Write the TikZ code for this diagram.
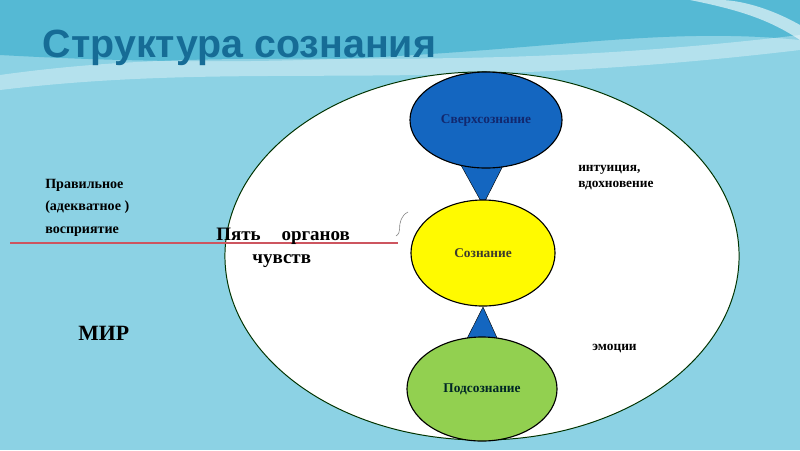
\documentclass[tikz,border=0pt]{standalone}
\usepackage{fontspec}
\setmainfont{Liberation Serif}
\newfontfamily\titlefont{Liberation Sans}
\usetikzlibrary{shapes.geometric}
\definecolor{sea}{RGB}{140,210,228}
\definecolor{seadark}{RGB}{85,185,212}
\definecolor{titleblue}{RGB}{22,108,150}
\definecolor{superblue}{RGB}{20,102,192}
\definecolor{navytext}{RGB}{18,40,110}
\definecolor{consyellow}{RGB}{255,250,0}
\definecolor{subgreen}{RGB}{146,208,80}
\definecolor{senseline}{RGB}{205,85,95}
\tikzset{
  level/.style={ellipse, draw=black, line width=0.8pt, inner sep=0pt, font=\bfseries\fontsize{9.5}{11}\selectfont},
  note/.style={align=left, inner sep=0pt, font=\bfseries\fontsize{10}{16}\selectfont},
  link/.style={fill=superblue, draw=black, line width=0.3pt}
}
\begin{document}
\begin{tikzpicture}[x=0.025cm, y=-0.025cm]
  % background
  \fill[sea] (0,0) rectangle (800,450);
  \fill[seadark] (0,0) -- (800,0) -- (800,40) .. controls (600,20) and (450,80) .. (0,55) -- cycle;
  \fill[white, opacity=0.35] (0,75) .. controls (250,40) and (420,80) .. (800,35) -- (800,50) .. controls (420,95) and (250,60) .. (0,90) -- cycle;
  \fill[white, opacity=0.6] (690,0) .. controls (740,10) and (770,20) .. (800,40) -- (800,25) .. controls (770,8) and (740,0) .. (720,0) -- cycle;
  \useasboundingbox (0,0) rectangle (800,450);

  \node[anchor=west, text=titleblue, font=\titlefont\bfseries\fontsize{28}{30}\selectfont] (title) at (38,48) {Структура сознания};

  % the mind
  \node[ellipse, draw=black!80!green, line width=0.7pt, fill=white, minimum width=12.85cm, minimum height=9.2cm] (mind) at (482,256) {};

  \coordinate (supBase) at (482,160);
  \coordinate (subBase) at (482,345);
  \node (sup) at (486,120) {};
  \node (cons) at (483,253) {};
  \node (sub) at (482,389) {};
  \fill[link] ([xshift=-17]supBase) -- ([xshift=17]supBase) -- (cons.center |- 0,205) -- cycle;
  \fill[link] ([xshift=-13]subBase) -- ([xshift=13]subBase) -- (cons.center |- 0,307) -- cycle;

  \node[level, fill=superblue, text=navytext, minimum width=3.8cm, minimum height=2.4cm] (supN) at (sup) {Сверхсознание};
  \node[level, fill=consyellow, text=black!75!olive, minimum width=3.6cm, minimum height=2.65cm] (consN) at (cons) {Сознание};
  \node[level, fill=subgreen, text=black!70!teal, minimum width=3.75cm, minimum height=2.6cm] (subN) at (sub) {Подсознание};

  % perception
  \coordinate (lineStart) at (10,243);
  \coordinate (lineEnd) at (398,243);
  \draw[senseline, line width=0.8pt] (lineStart) -- (lineEnd);
  \draw[gray, line width=0.4pt] (396,236) .. controls (402,232) and (398,226) .. (401,220) .. controls (403,216) and (404,214) .. (408,212);

  \node[note, anchor=north west] (right) at (45,179) {Правильное\\(адекватное )\\восприятие};
  \node[anchor=north west, align=left, inner sep=0pt, font=\bfseries\fontsize{13.5}{16.5}\selectfont] (senses) at (216,228) {Пять\hspace{1.1em}органов\\\hspace{1.9em}чувств};
  \node[anchor=west, inner sep=0pt, font=\bfseries\fontsize{15.5}{18}\selectfont] (world) at (78,333) {МИР};
  \node[note, anchor=north west, font=\bfseries\fontsize{9.5}{11.5}\selectfont] (intu) at (578,165) {интуиция,\\вдохновение};
  \node[note, anchor=west, font=\bfseries\fontsize{9.5}{11.5}\selectfont] (emo) at (592,349) {эмоции};
\end{tikzpicture}
\end{document}
